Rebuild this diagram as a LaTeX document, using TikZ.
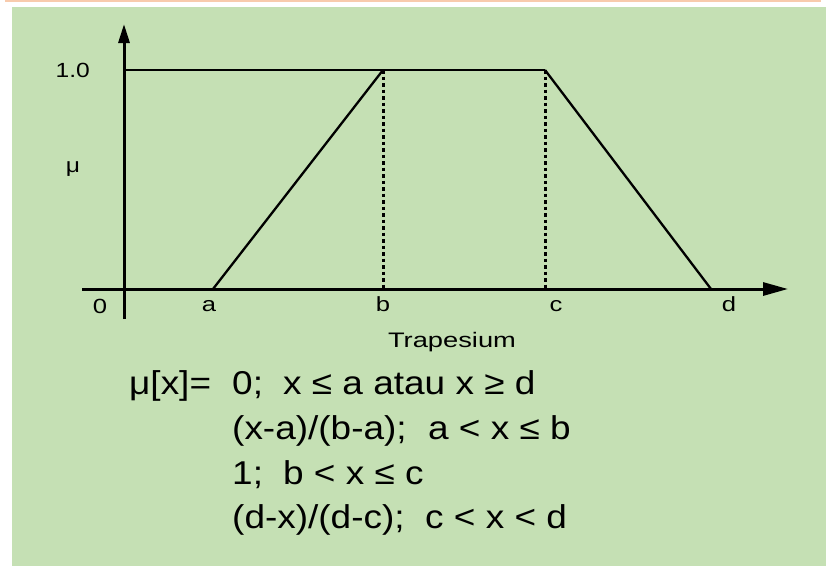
\documentclass[tikz,border=0pt]{standalone}
\usepackage{fontspec}
\setmainfont{Liberation Sans}
\usetikzlibrary{arrows.meta}
\definecolor{bggreen}{HTML}{C5E0B4}
\definecolor{peach}{HTML}{F8CBAD}
\newcommand{\hw}[2]{\scalebox{#1}[1]{#2}}
\begin{document}
\begin{tikzpicture}[x=1pt,y=-1pt,
  axisline/.style={line width=3pt},
  curve/.style={line width=2.3pt},
  dotline/.style={line width=3pt, dash pattern=on 3.5pt off 3pt},
  lbl/.style={inner sep=0pt, font=\fontsize{20.5}{24}\selectfont},
  captionlbl/.style={inner sep=0pt, font=\fontsize{21}{25}\selectfont},
  frm/.style={inner sep=0pt, anchor=base west, font=\fontsize{33}{40}\selectfont}]
\useasboundingbox (0,0) rectangle (826,566);
\fill[white] (0,0) rectangle (826,566);
\fill[peach] (5,0) rectangle (821,2);
\fill[bggreen] (12,7) rectangle (826,566);
% coordinates
\coordinate (ytop) at (124,24);
\coordinate (ybot) at (124,319);
\coordinate (xl) at (82,289);
\coordinate (xr) at (788,289);
\coordinate (one) at (124,70);
\coordinate (pa) at (213,289);
\coordinate (pb) at (383,70);
\coordinate (pc) at (545,70);
\coordinate (pd) at (711,289);
\coordinate (bb) at (383,289);
\coordinate (cb) at (545,289);
% axes
\draw[axisline, -{Triangle[length=19pt,width=11pt]}] (ybot) -- (ytop);
\draw[axisline, -{Triangle[length=25pt,width=13pt]}] (xl) -- (xr);
% trapezoid
\draw[curve] (one) -- (pc);
\draw[curve] (pa) -- (pb);
\draw[curve] (pc) -- (pd);
\draw[dotline] (pb) -- (bb);
\draw[dotline] (pc) -- (cb);
% labels
\node[lbl, anchor=base east] (l10) at (90,77) {\hw{1.2}{1.0}};
\node[lbl, anchor=base] (lmu) at (73,172) {\hw{1.2}{μ}};
\node[lbl, anchor=base] (l0) at (100,313) {\hw{1.25}{0}};
\node[lbl, anchor=base] (la) at (209,311) {\hw{1.25}{a}};
\node[lbl, anchor=base] (lb) at (383,311) {\hw{1.25}{b}};
\node[lbl, anchor=base] (lc) at (556,311) {\hw{1.25}{c}};
\node[lbl, anchor=base] (ld) at (729,311) {\hw{1.25}{d}};
\node[captionlbl, anchor=base] (trap) at (452,347) {\hw{1.3}{Trapesium}};
% formula
\node[frm] (f0) at (129,394) {\hw{1.12}{μ[x]=}};
\node[frm] (f1a) at (232,394) {\hw{1.12}{0;}};
\node[frm] (f1b) at (283,394) {\hw{1.12}{x ≤ a atau x ≥ d}};
\node[frm] (f2a) at (232,439) {\hw{1.12}{(x-a)/(b-a);}};
\node[frm] (f2b) at (428,439) {\hw{1.12}{a < x ≤ b}};
\node[frm] (f3a) at (232,484) {\hw{1.12}{1;}};
\node[frm] (f3b) at (283,484) {\hw{1.12}{b < x ≤ c}};
\node[frm] (f4a) at (232,528) {\hw{1.12}{(d-x)/(d-c);}};
\node[frm] (f4b) at (425,528) {\hw{1.12}{c < x < d}};
\end{tikzpicture}
\end{document}
